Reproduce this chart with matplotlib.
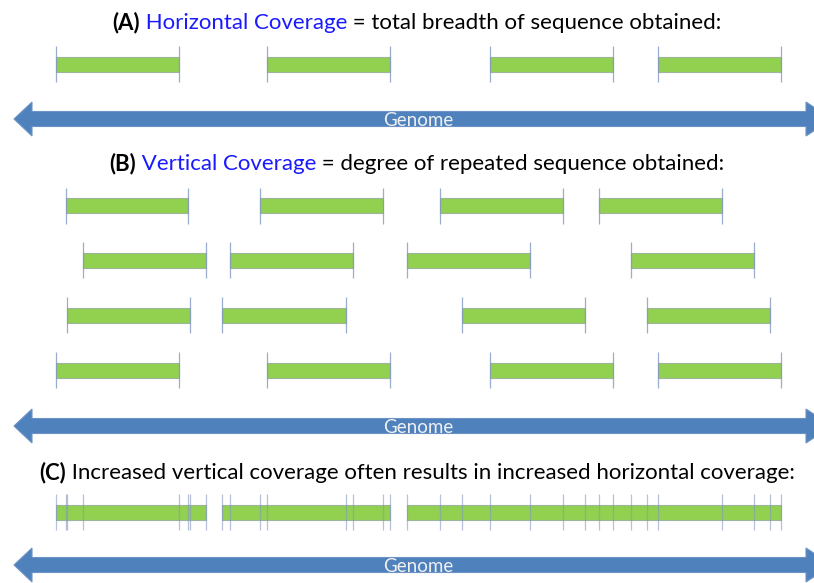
import matplotlib.pyplot as plt
from matplotlib.patches import Rectangle, Polygon

plt.rcParams['font.family'] = ['Lato', 'DejaVu Sans']

# read segments (start, end) in picture units along the genome
reads_a = [(56, 179), (267, 390), (490, 613), (658, 781)]
reads_b = [
    [(66, 188), (260, 383), (440, 563), (599, 722)],
    [(83, 206), (230, 353), (407, 530), (631, 754)],
    [(67, 190), (222, 346), (462, 585), (647, 770)],
    [(56, 179), (267, 390), (490, 613), (658, 781)],
]

title_a = [("(A)", "bold", "black"), (" Horizontal Coverage", "normal", "#1a1aff"),
           (" = total breadth of sequence obtained:", "normal", "black")]
title_b = [("(B)", "bold", "black"), (" Vertical Coverage", "normal", "#1a1aff"),
           (" = degree of repeated sequence obtained:", "normal", "black")]
title_c = [("(C)", "bold", "black"),
           (" Increased vertical coverage often results in increased horizontal coverage:", "normal", "black")]

GREEN = '#92D050'
BLUE = '#4F81BD'
TICK = '#8299c0'

W, H = 814, 583
fig = plt.figure(figsize=(W / 100, H / 100), dpi=100)
ax = fig.add_axes([0, 0, 1, 1])
ax.set_xlim(0, W)
ax.set_ylim(H, 0)
ax.axis('off')


def merge(segs):
    segs = sorted(segs)
    out = [list(segs[0])]
    for s, e in segs[1:]:
        if s <= out[-1][1]:
            out[-1][1] = max(out[-1][1], e)
        else:
            out.append([s, e])
    return out


def draw_bars(segs, yc):
    for s, e in segs:
        ax.add_patch(Rectangle((s, yc - 7.5), e - s, 15, facecolor=GREEN,
                               edgecolor='#9db59a', lw=0.8, zorder=2))


def draw_ticks(xs, yc, alpha=0.8):
    for x in xs:
        ax.plot([x, x], [yc - 18, yc + 18], color=TICK, lw=0.9, alpha=alpha,
                zorder=3, solid_capstyle='butt')


def draw_genome(yc, label_dy=7):
    tip_l, base_l, base_r, tip_r = 14, 32, 806, 832
    hh, sh = 17, 7.5
    pts = [(tip_l, yc), (base_l, yc - hh), (base_l, yc - sh), (base_r, yc - sh),
           (base_r, yc - hh), (tip_r, yc), (base_r, yc + hh), (base_r, yc + sh),
           (base_l, yc + sh), (base_l, yc + hh)]
    ax.add_patch(Polygon(pts, closed=True, facecolor=BLUE, edgecolor='#6d93c6',
                         lw=0.8, zorder=2))
    ax.text(418, yc + label_dy, "Genome", ha='center', va='baseline',
            fontsize=13.5, color='#f0f0f0', zorder=4)


def draw_title(pieces, y_base, size=16):
    arts = []
    first = ax.text(0, y_base, pieces[0][0], fontsize=size, fontweight=pieces[0][1],
                    color=pieces[0][2], va='baseline', ha='left')
    arts.append(first)
    prev = first
    for txt, wt, col in pieces[1:]:
        a = ax.annotate(txt, xy=(1, 0), xycoords=prev, va='bottom', ha='left',
                        fontsize=size, fontweight=wt, color=col)
        arts.append(a)
        prev = a
    fig.canvas.draw()
    r = fig.canvas.get_renderer()
    x0 = arts[0].get_window_extent(r).x0
    x1 = arts[-1].get_window_extent(r).x1
    width = (x1 - x0) * W / fig.bbox.width
    first.set_x(417 - width / 2)


# (A)
draw_title(title_a, 29)
draw_bars(reads_a, 64)
draw_ticks([x for seg in reads_a for x in seg], 64)
draw_genome(119)

# (B)
draw_title(title_b, 170)
for row, yc in zip(reads_b, [205.5, 260, 315, 370]):
    draw_bars(row, yc)
    draw_ticks([x for seg in row for x in seg], yc)
draw_genome(426)

# (C)
draw_title(title_c, 479)
all_reads = [seg for row in reads_b for seg in row]
draw_bars(merge(all_reads), 512)
draw_ticks([x for seg in all_reads for x in seg], 512, alpha=0.6)
draw_genome(565)

fig.savefig('out.png', dpi=100)
